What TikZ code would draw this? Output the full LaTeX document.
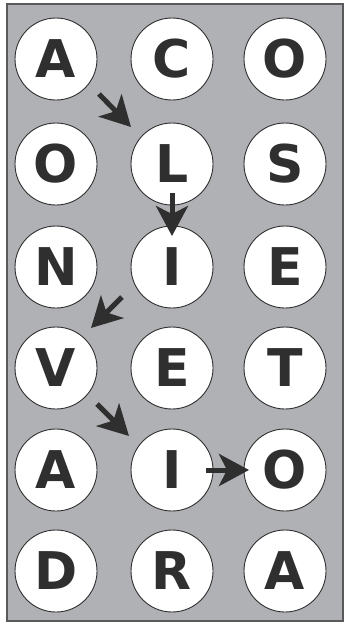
\documentclass[tikz,border=0pt]{standalone}
\usepackage{fontspec}
\setmainfont{DejaVu Sans}
\usetikzlibrary{arrows.meta}
\definecolor{bggray}{HTML}{B0B1B5}
\definecolor{ink}{HTML}{2F2F2F}
\tikzset{
  letter/.style={circle,draw=ink,line width=0.9pt,fill=white,minimum size=82pt,inner sep=0pt,
    font=\fontsize{52}{52}\selectfont\bfseries,text=ink},
  pointer/.style={draw=ink,line width=5pt,-{Stealth[length=30pt,width=32pt,inset=8pt]}}
}
\begin{document}
\begin{tikzpicture}[x=1pt,y=1pt]
\useasboundingbox (0,0) rectangle (346,-624);
\draw[fill=bggray,draw=ink!80,line width=1.5pt] (7,-4) rectangle (343,-621);
\foreach \r/\y in {1/59,2/164,3/267,4/368,5/470,6/571}{
  \foreach \c/\x in {1/56,2/172,3/285}{
    \coordinate (p\r\c) at (\x,-\y);
  }
}
\node[letter] (n11) at (p11) {A};
\node[letter] (n12) at (p12) {C};
\node[letter] (n13) at (p13) {O};
\node[letter] (n21) at (p21) {O};
\node[letter] (n22) at (p22) {L};
\node[letter] (n23) at (p23) {S};
\node[letter] (n31) at (p31) {N};
\node[letter] (n32) at (p32) {I};
\node[letter] (n33) at (p33) {E};
\node[letter] (n41) at (p41) {V};
\node[letter] (n42) at (p42) {E};
\node[letter] (n43) at (p43) {T};
\node[letter] (n51) at (p51) {A};
\node[letter] (n52) at (p52) {I};
\node[letter] (n53) at (p53) {O};
\node[letter] (n61) at (p61) {D};
\node[letter] (n62) at (p62) {R};
\node[letter] (n63) at (p63) {A};
\coordinate (a1s) at (99,-94);  \coordinate (a1e) at (131,-127);
\coordinate (a2s) at (172,-193); \coordinate (a2e) at (172,-236);
\coordinate (a3s) at (122,-297); \coordinate (a3e) at (91,-328);
\coordinate (a4s) at (97,-404);  \coordinate (a4e) at (129,-436);
\coordinate (a5s) at (206,-470); \coordinate (a5e) at (249,-470);
\draw[pointer] (a1s) -- (a1e);
\draw[pointer] (a2s) -- (a2e);
\draw[pointer] (a3s) -- (a3e);
\draw[pointer] (a4s) -- (a4e);
\draw[pointer] (a5s) -- (a5e);
\end{tikzpicture}
\end{document}
